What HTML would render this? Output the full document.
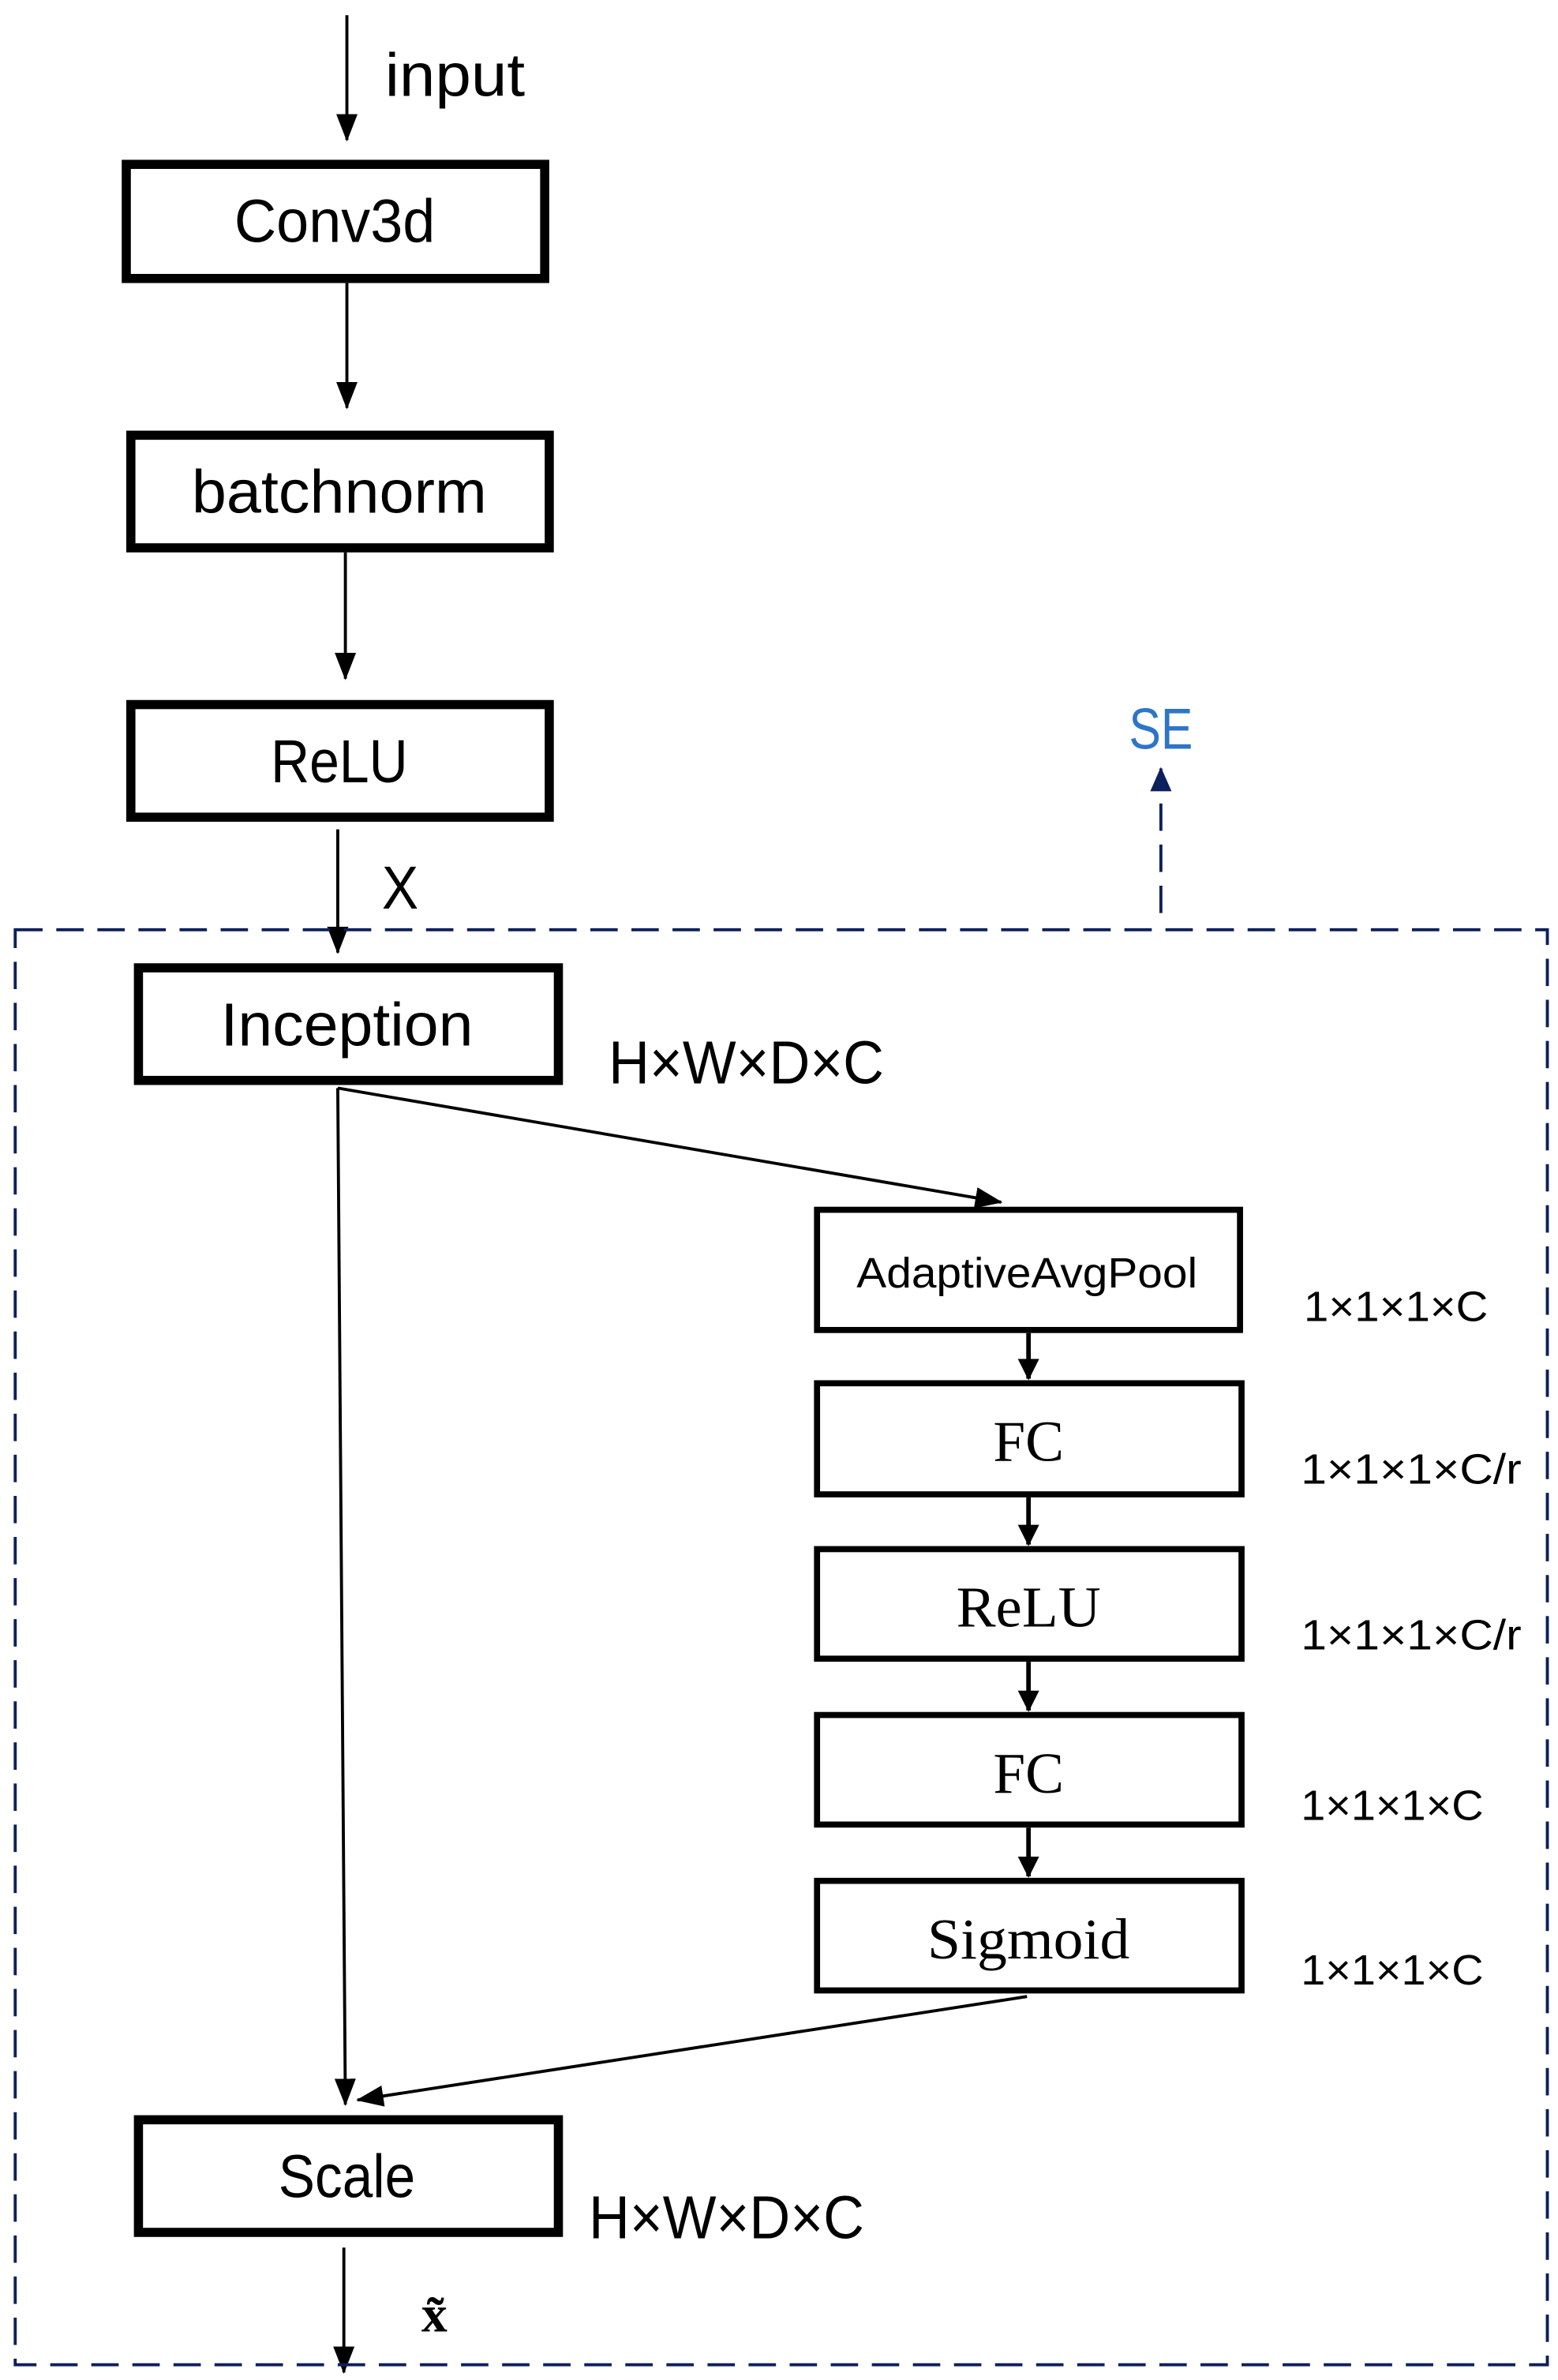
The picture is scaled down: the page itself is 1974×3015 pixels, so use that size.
<!DOCTYPE html>
<html><head><meta charset="utf-8"><style>
html,body{margin:0;padding:0;background:#fff}
svg{display:block}
.s{font-family:"Liberation Sans",sans-serif}
.r{font-family:"Liberation Serif",serif}
</style></head><body>
<svg width="1974" height="3015" viewBox="0 0 1024 1564" xmlns="http://www.w3.org/2000/svg">
<defs>
<marker id="a" markerWidth="14" markerHeight="14" refX="13" refY="7" orient="auto" markerUnits="userSpaceOnUse" viewBox="0 0 14 14"><path d="M0,0 L14,7 L0,14 z" fill="#000"/></marker>
<marker id="b" markerWidth="18" markerHeight="14" refX="17" refY="7" orient="auto" markerUnits="userSpaceOnUse"><path d="M0,0 L18,7 L0,14 z" fill="#000"/></marker>
<marker id="n" markerWidth="16" markerHeight="14" refX="15" refY="7" orient="auto" markerUnits="userSpaceOnUse"><path d="M0,0 L16,7 L0,14 z" fill="#0d1f5c"/></marker>
</defs>
<g stroke="#000" stroke-width="2" fill="none">
<line x1="228" y1="10" x2="228" y2="92" marker-end="url(#b)"/>
<line x1="228" y1="186" x2="228" y2="268" marker-end="url(#b)"/>
<line x1="227" y1="363" x2="227" y2="446" marker-end="url(#b)"/>
<line x1="222" y1="545" x2="222" y2="626" marker-end="url(#b)"/>
<line x1="222" y1="715" x2="227" y2="1383" marker-end="url(#b)"/>
<line x1="222" y1="715" x2="658" y2="790" marker-end="url(#b)"/>
<line x1="675" y1="1312" x2="235" y2="1380" marker-end="url(#b)"/>
<line x1="226" y1="1477" x2="226" y2="1559" marker-end="url(#b)"/>
</g>
<g stroke="#000" stroke-width="3" fill="none">
<line x1="676" y1="876" x2="676" y2="906" marker-end="url(#a)"/>
<line x1="676" y1="984" x2="676" y2="1015" marker-end="url(#a)"/>
<line x1="676" y1="1092" x2="676" y2="1124" marker-end="url(#a)"/>
<line x1="676" y1="1201" x2="676" y2="1233" marker-end="url(#a)"/>
</g>
<rect x="10" y="611" width="1007" height="943" fill="none" stroke="#0d1f5c" stroke-width="2" stroke-dasharray="18,9"/>
<line x1="763" y1="600" x2="763" y2="505" stroke="#0d1f5c" stroke-width="2" stroke-dasharray="18,9" marker-end="url(#n)"/>
<g fill="none" stroke="#000" stroke-width="6">
<rect x="83" y="108" width="275" height="75"/>
<rect x="86" y="286" width="275" height="74"/>
<rect x="86" y="463" width="275" height="74"/>
<rect x="91" y="636" width="276" height="74"/>
<rect x="91" y="1393" width="276" height="74"/>
</g>
<g fill="none" stroke="#000" stroke-width="4">
<rect x="537" y="795" width="278" height="79"/>
<rect x="537" y="909" width="279" height="73"/>
<rect x="537" y="1018" width="279" height="72"/>
<rect x="537" y="1127" width="279" height="72"/>
<rect x="537" y="1236" width="279" height="72"/>
</g>
<g class="s" font-size="40" fill="#000" text-anchor="middle">
<text x="220" y="159" textLength="132" lengthAdjust="spacingAndGlyphs">Conv3d</text>
<text x="223" y="337" textLength="194" lengthAdjust="spacingAndGlyphs">batchnorm</text>
<text x="223" y="514" textLength="90" lengthAdjust="spacingAndGlyphs">ReLU</text>
<text x="228" y="687" textLength="166" lengthAdjust="spacingAndGlyphs">Inception</text>
<text x="228" y="1444" textLength="90" lengthAdjust="spacingAndGlyphs">Scale</text>
</g>
<g class="s" font-size="40" fill="#000">
<text x="253" y="63" textLength="92" lengthAdjust="spacingAndGlyphs">input</text>
<text x="251" y="597" textLength="24" lengthAdjust="spacingAndGlyphs">X</text>
<text x="400" y="712" textLength="181" lengthAdjust="spacingAndGlyphs">H×W×D×C</text>
<text x="387" y="1471" textLength="181" lengthAdjust="spacingAndGlyphs">H×W×D×C</text>
</g>
<text x="742" y="492" class="s" font-size="38" fill="#2e75c8" textLength="42" lengthAdjust="spacingAndGlyphs">SE</text>
<text x="675" y="846" class="s" font-size="28" text-anchor="middle" textLength="224" lengthAdjust="spacingAndGlyphs">AdaptiveAvgPool</text>
<g class="r" font-size="38" text-anchor="middle">
<text x="676" y="960">FC</text>
<text x="676" y="1069" textLength="95" lengthAdjust="spacingAndGlyphs">ReLU</text>
<text x="676" y="1178">FC</text>
<text x="676" y="1287" textLength="133" lengthAdjust="spacingAndGlyphs">Sigmoid</text>
</g>
<g class="s" font-size="28">
<text x="857" y="868" textLength="121" lengthAdjust="spacingAndGlyphs">1×1×1×C</text>
<text x="855" y="975" textLength="145" lengthAdjust="spacingAndGlyphs">1×1×1×C/r</text>
<text x="855" y="1084" textLength="145" lengthAdjust="spacingAndGlyphs">1×1×1×C/r</text>
<text x="855" y="1196" textLength="120" lengthAdjust="spacingAndGlyphs">1×1×1×C</text>
<text x="855" y="1304" textLength="120" lengthAdjust="spacingAndGlyphs">1×1×1×C</text>
</g>
<text x="277" y="1532" class="r" font-size="34" font-weight="bold">x̃</text>
</svg>
</body></html>
